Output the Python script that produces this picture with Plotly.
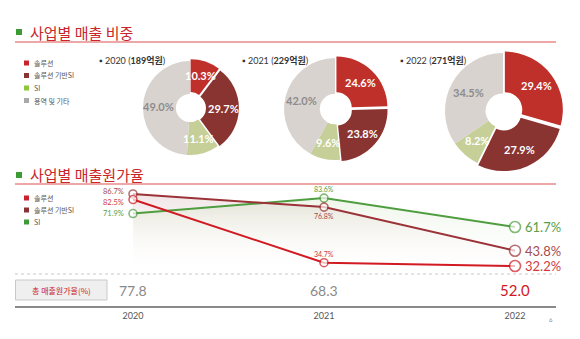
import math
import plotly.graph_objects as go

W, H = 580, 339

# ---------- data ----------
pie_categories = ["솔루션", "솔루션 기반SI", "SI", "용역 및 기타"]
pie_years = ["2020", "2021", "2022"]
pie_totals = ["189억원", "229억원", "271억원"]
pie_2020 = [10.3, 29.7, 11.1, 49.0]
pie_2021 = [24.6, 23.8, 9.6, 42.0]
pie_2022 = [29.4, 27.9, 8.2, 34.5]

line_years = [2020, 2021, 2022]
line_categories = ["솔루션", "솔루션 기반SI", "SI"]
cost_solution = [82.5, 34.7, 32.2]
cost_solution_si = [86.7, 76.8, 43.8]
cost_si = [71.9, 83.6, 61.7]
total_cost_label = "총 매출원가율(%)"
total_cost = [77.8, 68.3, 52.0]

title1 = "사업별 매출 비중"
title2 = "사업별 매출원가율"

# ---------- styles ----------
FONT = "Lato, 'Noto Sans CJK KR', sans-serif"
KFONT = "'Noto Sans CJK KR', Lato, sans-serif"
pie_colors = ["#c0302b", "#8a3432", "#c5cf97", "#d9d3cf"]
pie_text_colors = ["white", "white", "white", "#8c8c8c"]
pie_legend_colors = ["#c8222a", "#8a3432", "#8cc63f", "#a9a9a9"]
line_colors = ["#d11a22", "#9b3237", "#4e9d3f"]
label_colors = ["#cf3a3f", "#a54a4d", "#5a9e48"]
RED = "#c9252b"


def px(x):
    return x / W


def py(y):
    return 1 - y / H


fig = go.Figure()
shapes = []
annotations = []

# ---------- pies ----------
pie_geom = [(190, 108, 47), (335, 109, 51), (503, 111, 58)]
pull = [0.04, 0.04, 0, 0]
for vals, (cx, cy, r) in zip([pie_2020, pie_2021, pie_2022], pie_geom):
    half = r * (1 + max(pull))
    fig.add_trace(go.Pie(
        labels=pie_categories, values=vals, sort=False, direction="clockwise",
        rotation=0, hole=0.3, pull=pull,
        marker=dict(colors=pie_colors, line=dict(color="white", width=0)),
        textinfo="none",
        domain=dict(x=[px(cx - half), px(cx + half)], y=[py(cy + half), py(cy - half)]),
        showlegend=False, hoverinfo="label+percent",
    ))
    # slice labels at mid-angle (derived from the data)
    total = sum(vals)
    cum = 0.0
    for v, p, tc in zip(vals, pull, pie_text_colors):
        mid = (cum + v / 2) / total * 2 * math.pi
        cum += v
        rr = r * 0.68 + p * r
        lx = cx + rr * math.sin(mid)
        ly = cy - rr * math.cos(mid)
        annotations.append(dict(text=f"{v:.1f}%", xref="paper", yref="paper",
                                x=px(lx), y=py(ly), xanchor="center", yanchor="middle",
                                showarrow=False,
                                font=dict(family=FONT, size=11, weight="bold", color=tc)))

# ---------- lines ----------
series = [cost_solution, cost_solution_si, cost_si]

fig.add_trace(go.Scatter(
    x=line_years, y=cost_solution_si, mode="lines", line=dict(width=0),
    fill="tozeroy", fillgradient=dict(type="vertical", start=26, stop=87,
                                      colorscale=[[0, "rgba(255,255,255,0)"], [1, "rgba(190,140,140,0.22)"]]),
    showlegend=False, hoverinfo="skip"))
fig.add_trace(go.Scatter(
    x=line_years, y=cost_si, mode="lines", line=dict(width=0),
    fill="tozeroy", fillgradient=dict(type="vertical", start=26, stop=84,
                                      colorscale=[[0, "rgba(255,255,255,0)"], [1, "rgba(160,200,130,0.18)"]]),
    showlegend=False, hoverinfo="skip"))

for vals, col in reversed(list(zip(series, line_colors))):
    fig.add_trace(go.Scatter(
        x=line_years, y=vals, mode="lines+markers",
        line=dict(color=col, width=2),
        marker=dict(symbol="circle", size=[8, 8, 11], color="white",
                    line=dict(color=col, width=1.6)),
        showlegend=False, cliponaxis=False))

# ---------- section titles ----------
for title, ty, ly in [(title1, 32, 42), (title2, 175, 184)]:
    shapes.append(dict(type="rect", xref="paper", yref="paper",
                       x0=px(16), x1=px(22), y0=py(ty + 3), y1=py(ty - 3),
                       fillcolor="#3d9b35", line=dict(width=0)))
    shapes.append(dict(type="line", xref="paper", yref="paper",
                       x0=px(15), x1=px(556), y0=py(ly), y1=py(ly),
                       line=dict(color="#e98a8a", width=1.5)))
    annotations.append(dict(text=title, xref="paper", yref="paper",
                            x=px(28), y=py(ty), xanchor="left", yanchor="middle",
                            showarrow=False, font=dict(family=KFONT, size=15, color=RED)))

# ---------- legends ----------
for i, (cat, col) in enumerate(zip(pie_categories, pie_legend_colors)):
    y = 63 + i * 12.5
    shapes.append(dict(type="rect", xref="paper", yref="paper",
                       x0=px(24), x1=px(29), y0=py(y + 2.5), y1=py(y - 2.5),
                       fillcolor=col, line=dict(width=0)))
    annotations.append(dict(text=cat, xref="paper", yref="paper", x=px(32), y=py(y),
                            xanchor="left", yanchor="middle", showarrow=False,
                            font=dict(family=KFONT, size=7, color="#555")))
leg2_colors = ["#c8222a", "#8a3432", "#3f9a3a"]
for i, (cat, col) in enumerate(zip(line_categories, leg2_colors)):
    y = 198 + i * 12
    shapes.append(dict(type="rect", xref="paper", yref="paper",
                       x0=px(24), x1=px(29), y0=py(y + 2.5), y1=py(y - 2.5),
                       fillcolor=col, line=dict(width=0)))
    annotations.append(dict(text=cat, xref="paper", yref="paper", x=px(32), y=py(y),
                            xanchor="left", yanchor="middle", showarrow=False,
                            font=dict(family=KFONT, size=7, color="#555")))

# ---------- pie headings ----------
for yr, tot, hx in zip(pie_years, pie_totals, [97, 240, 398]):
    annotations.append(dict(text=f"▪ {yr} (<b>{tot}</b>)", xref="paper", yref="paper",
                            x=px(hx), y=py(60), xanchor="left", yanchor="middle",
                            showarrow=False, font=dict(family=FONT, size=9, color="#333")))

# ---------- line labels ----------
left_shift = [-3, 3, 0]
for vals, col, ls in zip(series, label_colors, left_shift):
    annotations.append(dict(text=f"{vals[0]:.1f}%", x=line_years[0], y=vals[0], xref="x", yref="y",
                            xanchor="right", yanchor="middle", xshift=-7, yshift=ls, showarrow=False,
                            font=dict(family=FONT, size=7.5, color=col)))
    annotations.append(dict(text=f"{vals[2]:.1f}%", x=line_years[2], y=vals[2], xref="x", yref="y",
                            xanchor="left", yanchor="middle", xshift=8, showarrow=False,
                            font=dict(family=FONT, size=13, color=col)))
mid_shift = [9, -9, 9]
for vals, col, sh in zip(series, label_colors, mid_shift):
    annotations.append(dict(text=f"{vals[1]:.1f}%", x=line_years[1], y=vals[1], xref="x", yref="y",
                            xanchor="center", yanchor="middle", yshift=sh, showarrow=False,
                            font=dict(family=FONT, size=7, color=col)))

# dotted separator
shapes.append(dict(type="line", xref="paper", yref="paper", x0=px(15), x1=px(556),
                   y0=py(274), y1=py(274), line=dict(color="#c8c8c8", width=1, dash="dot")))

# total cost row
shapes.append(dict(type="rect", xref="paper", yref="paper", x0=px(15.5), x1=px(107),
                   y0=py(300), y1=py(280), fillcolor="#efefef", line=dict(color="#c9c9c9", width=1)))
annotations.append(dict(text=total_cost_label, xref="paper", yref="paper", x=px(61), y=py(290),
                        xanchor="center", yanchor="middle", showarrow=False,
                        font=dict(family=KFONT, size=8, color=RED)))
for i, (yr, v) in enumerate(zip(line_years, total_cost)):
    last = i == len(total_cost) - 1
    annotations.append(dict(text=f"{v:.1f}", x=yr, xref="x", yref="paper", y=py(290),
                            xanchor="center", yanchor="middle", showarrow=False,
                            font=dict(family=FONT, size=15 if last else 14,
                                      color="#d11a22" if last else "#8a8a8a")))

annotations.append(dict(text="6", xref="paper", yref="paper", x=px(555), y=py(325),
                        showarrow=False, font=dict(family=FONT, size=6, color="#888")))

# axis geometry: value 86.7 -> 194px, 32.2 -> 266px
ppu = (266 - 194) / (86.7 - 32.2)
y_top_px, y_bot_px = 185, 306
y_hi = 86.7 + (194 - y_top_px) / ppu
y_lo = 32.2 - (y_bot_px - 266) / ppu
x_l_px, x_r_px, x20, x22 = 15, 556, 133, 515
ppx = (x22 - x20) / 2
x_lo = 2020 - (x20 - x_l_px) / ppx
x_hi = 2022 + (x_r_px - x22) / ppx

fig.update_layout(
    width=W, height=H, margin=dict(l=0, r=0, t=0, b=0),
    paper_bgcolor="white", plot_bgcolor="rgba(0,0,0,0)",
    shapes=shapes, annotations=annotations,
    xaxis=dict(domain=[px(x_l_px), px(x_r_px)], range=[x_lo, x_hi],
               tickvals=line_years, ticktext=[str(y) for y in line_years],
               showline=True, linecolor="#8a8a8a", linewidth=1.5,
               showgrid=False, zeroline=False, ticks="",
               tickfont=dict(family=FONT, size=9, color="#555")),
    yaxis=dict(domain=[py(y_bot_px), py(y_top_px)], range=[y_lo, y_hi], visible=False,
               showgrid=False, zeroline=False),
    showlegend=False,
)

fig.write_html("out.html")
